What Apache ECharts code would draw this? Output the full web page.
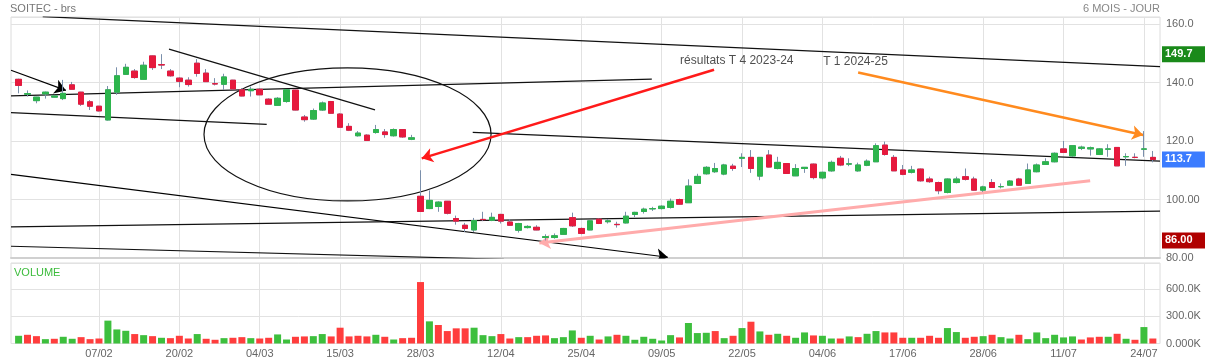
<!DOCTYPE html>
<html><head><meta charset="utf-8">
<script src="https://cdn.jsdelivr.net/npm/echarts@6/dist/echarts.min.js"></script>
<style>html,body{margin:0;padding:0;background:#fff}#c{width:1205px;height:364px}</style>
</head><body><div id="c"></div>
<script>
// ---- data ----
const dates = ['25/01','26/01','29/01','30/01','31/01','01/02','02/02','05/02','06/02','07/02','08/02','09/02','12/02','13/02','14/02','15/02','16/02','19/02','20/02','21/02','22/02','23/02','26/02','27/02','28/02','29/02','01/03','04/03','05/03','06/03','07/03','08/03','11/03','12/03','13/03','14/03','15/03','18/03','19/03','20/03','21/03','22/03','25/03','26/03','27/03','28/03','02/04','03/04','04/04','05/04','08/04','09/04','10/04','11/04','12/04','15/04','16/04','17/04','18/04','19/04','22/04','23/04','24/04','25/04','26/04','29/04','30/04','02/05','03/05','06/05','07/05','08/05','09/05','10/05','13/05','14/05','15/05','16/05','17/05','20/05','21/05','22/05','23/05','24/05','27/05','28/05','29/05','30/05','31/05','03/06','04/06','05/06','06/06','07/06','10/06','11/06','12/06','13/06','14/06','17/06','18/06','19/06','20/06','21/06','24/06','25/06','26/06','27/06','28/06','01/07','02/07','03/07','04/07','05/07','08/07','09/07','10/07','11/07','12/07','15/07','16/07','17/07','18/07','19/07','22/07','23/07','24/07','25/07'];
const tickLabels = ['07/02','20/02','04/03','15/03','28/03','12/04','25/04','09/05','22/05','04/06','17/06','28/06','11/07','24/07'];
const opens = [141.1,136.0,133.8,136.1,135.0,134.5,139.2,136.7,133.4,131.9,127.2,136.7,142.8,143.9,141.1,149.1,146.1,143.9,141.5,140.8,146.6,143.2,139.6,139.4,140.8,137.5,137.2,137.7,134.3,132.2,133.5,137.4,128.2,127.5,130.6,133.5,129.2,125.0,121.8,122.0,122.9,123.1,121.8,123.9,120.6,101.1,96.9,97.6,99.4,93.5,91.2,89.6,93.2,92.9,94.9,92.3,89.5,90.4,90.5,87.0,87.0,88.1,93.8,90.1,89.6,93.3,92.4,91.5,92.0,94.9,95.9,96.8,96.9,97.3,100.0,98.9,105.5,108.8,109.5,108.7,111.4,114.1,114.4,108.0,115.2,110.6,112.3,108.1,110.6,112.1,107.4,109.8,114.1,112.1,109.8,111.7,112.9,118.6,114.4,110.1,109.3,110.4,107.0,105.8,102.4,105.8,107.8,107.0,103.2,105.8,104.4,104.9,107.0,105.5,109.5,112.0,112.9,117.3,114.9,117.5,117.3,115.4,117.2,117.8,114.6,114.4,117.2,114.4];
const closes = [139.0,136.2,135.0,136.7,135.4,136.3,137.7,132.6,131.9,130.3,137.5,142.3,145.2,141.7,145.9,145.1,146.0,142.3,140.4,139.3,143.1,140.3,139.5,141.9,137.8,135.4,137.7,135.8,132.6,134.6,137.5,130.6,127.3,130.4,133.0,129.5,124.7,123.7,122.7,120.2,123.9,122.2,123.9,121.4,121.1,95.9,99.7,99.1,95.3,92.6,90.1,92.8,93.1,93.9,92.6,91.2,91.8,90.8,89.6,87.3,87.6,90.1,91.0,88.4,92.7,91.8,92.7,91.4,94.3,95.6,96.7,96.9,97.7,99.4,98.4,104.6,107.9,111.0,110.6,111.8,110.6,114.4,110.6,114.4,111.1,112.7,108.9,110.6,111.0,107.5,109.3,112.7,111.8,112.2,111.8,113.1,118.4,115.4,109.8,108.6,110.1,106.4,106.1,103.0,107.0,107.0,106.9,103.2,104.3,104.1,104.4,106.3,104.9,110.1,111.8,112.9,115.8,116.1,118.4,117.9,117.7,117.3,117.3,111.5,114.7,114.4,117.3,113.7];
const lows = [136.3,135.2,132.9,134.5,134.9,134.0,137.6,132.0,130.6,130.1,127.0,135.8,142.6,141.3,140.9,144.3,144.6,142.0,138.4,138.6,142.0,140.2,139.0,137.5,137.5,135.3,135.2,135.7,132.5,132.0,133.1,130.5,126.6,127.2,130.3,129.3,124.6,123.4,121.5,120.0,122.5,121.1,121.5,121.1,120.3,95.8,96.7,95.8,94.9,91.4,88.9,88.9,92.6,92.6,91.8,91.0,88.7,90.1,89.5,86.0,86.6,88.0,90.6,88.1,89.5,91.6,91.8,90.4,91.8,94.0,95.2,96.1,96.6,96.9,98.2,98.9,105.3,108.5,109.1,108.3,109.8,111.1,109.1,106.6,111.0,110.3,108.9,108.0,109.1,106.9,106.9,109.5,111.4,111.4,109.5,111.4,112.9,115.0,109.8,108.3,108.9,106.1,105.7,101.8,102.1,105.5,106.5,103.0,102.6,104.0,103.8,104.9,104.7,105.5,109.3,111.8,112.7,116.1,114.6,116.9,115.0,115.2,114.6,111.5,111.5,114.1,114.6,112.7];
const highs = [141.3,137.3,135.1,136.9,135.8,140.9,140.2,136.8,134.0,132.0,138.8,145.2,146.4,144.6,147.1,149.2,149.7,144.6,141.8,141.8,148.0,144.6,141.5,143.0,140.9,138.1,138.6,138.1,134.6,135.0,137.7,137.5,128.9,131.1,133.5,133.7,129.5,126.1,123.4,122.3,125.5,124.1,124.3,124.0,122.1,110.0,103.1,99.4,99.5,94.5,92.0,93.7,95.8,95.5,95.1,93.3,92.0,91.2,91.2,88.1,88.4,90.3,95.5,90.4,92.9,93.5,93.3,92.4,95.8,95.8,97.2,97.5,98.0,100.3,100.3,106.9,108.8,111.4,112.5,112.2,112.2,115.8,116.9,114.5,116.9,114.6,112.4,112.1,111.1,112.3,109.5,113.3,114.9,114.1,112.6,113.7,119.2,119.8,115.2,111.8,111.5,110.6,107.8,106.1,107.2,107.8,110.6,107.8,104.7,107.0,105.5,106.6,107.4,112.3,112.3,114.1,116.1,120.0,118.6,118.4,118.1,117.5,118.9,117.9,115.8,115.8,123.4,116.6];
// volumes in thousands of shares
const volumes = [85,96,81,48,52,74,52,70,48,55,252,155,140,104,92,81,63,59,85,55,104,52,41,59,63,70,59,55,63,100,44,74,78,81,104,78,174,78,85,78,96,74,44,59,63,677,244,204,137,167,167,174,92,81,104,55,70,70,85,89,59,70,144,63,85,44,78,96,85,41,74,52,33,92,67,226,115,118,137,59,85,170,240,133,96,107,85,63,122,89,85,55,55,78,70,107,137,122,122,63,63,63,85,63,170,126,63,74,81,96,70,55,96,48,122,59,96,67,78,44,67,74,74,107,52,41,181,55];
// drawings, in data coordinates [day index, price]
const trendLines = [
  [[2.7,162.5],[127.8,145.4]],
  [[-0.85,135.42],[70.9,141.15]],
  [[-0.85,129.70],[27.78,125.72]],
  [[16.84,151.43],[39.91,130.63]],
  [[50.85,122.98],[127.8,113.14]],
  [[-0.85,90.63],[127.8,96.0]],
  [[-0.85,84.01],[54.35,79.55]]
];
const arrowLines = [
  {coords:[[-0.85,144.2],[5.3,137.3]], color:'#000000', width:1.2},
  {coords:[[-0.85,108.6],[72.7,80.25]], color:'#000000', width:1.2},
  {coords:[[77.87,144.34],[45.14,114.07]], color:'#ff1a1a', width:2.5},
  {coords:[[94.0,143.41],[125.91,122.06]], color:'#ff8a1e', width:2.5},
  {coords:[[119.98,106.39],[58.31,85.14]], color:'#ffabab', width:3}
];
const ellipseSpec = [36.83, 122.26, 16.07, 22.76]; // center idx, center price, radius in days, radius in price
const annotations = [[74.06,147.4,'résultats T 4 2023-24'],[90.08,147.06,'T 1 2024-25']];

// ---- styles ----
const UP = '#2db54d', DOWN = '#e6193d', WICK = '#7a8fab';
const VOL_UP = '#3dbf3d', VOL_DOWN = '#ff3d3d';
const GRIDC = '#e2e2e2';
const XMIN = -0.85, XMAX = 127.8;
const fmtPrice = v => v > 100 ? v.toFixed(1) : v.toFixed(2);

const N = dates.length;
const tickIdx = tickLabels.map(d => dates.indexOf(d));
const ohlc = dates.map((d,i) => [i, opens[i], closes[i], lows[i], highs[i]]);
const bodies = dates.map((d,i) => [i, opens[i], closes[i], Math.min(opens[i],closes[i]), Math.max(opens[i],closes[i])]);
const volData = dates.map((d,i) => ({value:[i, volumes[i]*1000], itemStyle:{color:(i===0 || closes[i] >= closes[i-1]) ? VOL_UP : VOL_DOWN}}));
const hi = Math.max(...highs), lo = Math.min(...lows), last = closes[N-1];

const chart = echarts.init(document.getElementById('c'), null, {renderer:'canvas'});
const xBase = {
  type:'value', min:XMIN, max:XMAX,
  axisTick:{show:false, customValues:tickIdx},
  splitLine:{show:true, lineStyle:{color:GRIDC, width:1}}
};
const priceBox = (v, bg) => ({yAxis:v, label:{backgroundColor:bg}});
chart.setOption({
  animation:false,
  textStyle:{fontFamily:'Liberation Sans, Arial, sans-serif'},
  title:[
    {text:'SOITEC - brs', left:10, top:3, padding:0, textStyle:{color:'#777', fontSize:11, fontWeight:'normal'}},
    {text:'6 MOIS - JOUR', right:45, top:3, padding:0, textStyle:{color:'#888', fontSize:11, fontWeight:'normal'}},
    {text:'VOLUME', left:14, top:267, padding:0, textStyle:{color:'#3cbc3c', fontSize:11, fontWeight:'normal'}}
  ],
  grid:[
    {left:11, right:45, top:17, height:241, show:true, borderColor:'#dcdcdc', borderWidth:1},
    {left:11, right:45, top:263, height:80.5, show:true, borderColor:'#dcdcdc', borderWidth:1}
  ],
  xAxis:[
    Object.assign({}, xBase, {gridIndex:0,
      axisLine:{show:true, lineStyle:{color:'#d0d0d0', width:2}},
      axisLabel:{show:false, customValues:tickIdx}}),
    Object.assign({}, xBase, {gridIndex:1,
      axisLine:{show:false},
      axisLabel:{show:true, customValues:tickIdx, formatter:v => dates[v], color:'#666', fontSize:11, margin:5}})
  ],
  yAxis:[
    {type:'value', gridIndex:0, position:'right', min:80, max:162.4, interval:20,
      axisLine:{show:false}, axisTick:{show:false},
      axisLabel:{formatter:fmtPrice, showMaxLabel:false, color:'#666', fontSize:11, margin:6},
      splitLine:{lineStyle:{color:GRIDC}}},
    {type:'value', gridIndex:1, position:'right', min:0, max:887000, interval:300000,
      axisLine:{show:false}, axisTick:{show:false},
      axisLabel:{formatter:v => (v/1000).toPrecision(4)+'K', showMaxLabel:false, color:'#666', fontSize:11, margin:6},
      splitLine:{lineStyle:{color:GRIDC}}}
  ],
  series:[
    {type:'lines', coordinateSystem:'cartesian2d', xAxisIndex:0, yAxisIndex:0, silent:true, clip:true,
      lineStyle:{color:'#111', width:1.2, opacity:1, curveness:0},
      data:trendLines.map(c => ({coords:c}))},
    {type:'custom', xAxisIndex:0, yAxisIndex:0, silent:true, data:[ellipseSpec], encode:{x:0, y:1},
      renderItem:(params, api) => {
        const c = api.coord([api.value(0), api.value(1)]);
        const s = api.size([api.value(2), api.value(3)]);
        return {type:'ellipse', shape:{cx:c[0], cy:c[1], rx:s[0], ry:s[1]},
          style:{fill:'none', stroke:'#111', lineWidth:1.2}};
      }},
    {type:'candlestick', xAxisIndex:0, yAxisIndex:0, silent:true, data:ohlc, encode:{x:0, y:[1,2,3,4]},
      barWidth:6,
      itemStyle:{color:WICK, color0:WICK, borderColor:WICK, borderColor0:WICK, borderWidth:1}},
    {type:'candlestick', xAxisIndex:0, yAxisIndex:0, silent:true, data:bodies, encode:{x:0, y:[1,2,3,4]},
      barWidth:6,
      itemStyle:{color:UP, color0:DOWN, borderColor:UP, borderColor0:DOWN, borderWidth:1}},
    {type:'lines', coordinateSystem:'cartesian2d', xAxisIndex:0, yAxisIndex:0, silent:true, clip:true,
      symbol:['none','arrow'], symbolSize:11,
      lineStyle:{width:1.2, opacity:1, curveness:0},
      data:arrowLines.map(a => ({coords:a.coords, lineStyle:{color:a.color, width:a.width}}))},
    {type:'scatter', xAxisIndex:0, yAxisIndex:0, silent:true, symbolSize:0.1,
      itemStyle:{color:'transparent'},
      label:{show:true, position:'right', distance:0, formatter:p => p.value[2], color:'#222', fontSize:12},
      data:annotations,
      markLine:{silent:true, symbol:'none', animation:false,
        lineStyle:{color:'rgba(0,0,0,0)', width:0, type:'solid'},
        label:{show:true, position:'end', distance:2, color:'#ffffff', fontWeight:'bold', fontSize:11,
          padding:[3,13,2,3], formatter:p => fmtPrice(p.value)},
        data:[priceBox(hi,'#1a8a1a'), priceBox(last,'#3b7cff'), priceBox(lo,'#b00000')]}},
    {type:'bar', xAxisIndex:1, yAxisIndex:1, silent:true, barWidth:7, data:volData}
  ]
});
</script></body></html>
